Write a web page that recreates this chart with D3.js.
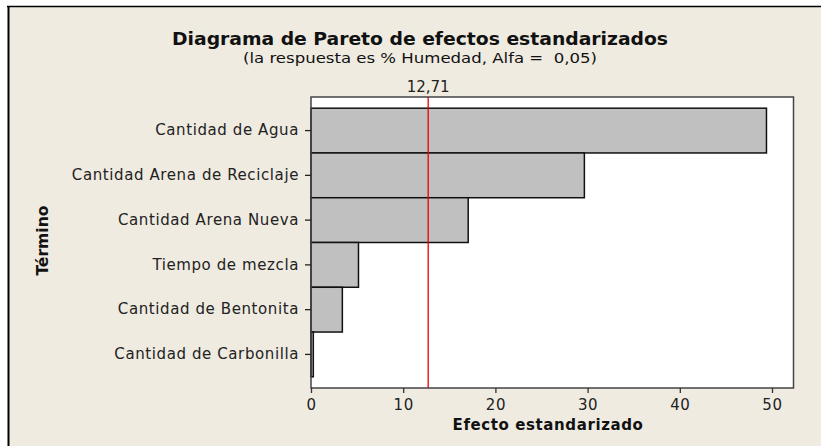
<!DOCTYPE html>
<html>
<head>
<meta charset="utf-8">
<script src="https://cdn.jsdelivr.net/npm/d3@7"></script>
<style>
  html, body { margin: 0; padding: 0; background: #ffffff; }
  svg { display: block; }
</style>
</head>
<body>
<svg id="chart" width="821" height="446"></svg>
<script>
// Terms of the factorial model, ordered by standardized effect
const terms = [
  "Cantidad de Agua",
  "Cantidad Arena de Reciclaje",
  "Cantidad Arena Nueva",
  "Tiempo de mezcla",
  "Cantidad de Bentonita",
  "Cantidad de Carbonilla"
];
const effects = [49.4, 29.65, 17.05, 5.15, 3.4, 0.25];
const xTicks = [0, 10, 20, 30, 40, 50];
const criticalValue = 12.71;
const criticalLabel = "12,71";

const svg = d3.select("#chart");
const W = 821, H = 446;
const plot = { left: 311, right: 793.5, top: 97, bottom: 388 };
const sans = "'DejaVu Sans', Verdana, sans-serif";
const cond = "'DejaVu Sans Condensed', 'DejaVu Sans', sans-serif";

// Panel background with its top and left frame lines
svg.append("rect").attr("x", 8).attr("y", 6).attr("width", W - 8).attr("height", H - 6)
  .attr("fill", "#efebe1");
svg.append("line").attr("x1", 7).attr("x2", W).attr("y1", 6.5).attr("y2", 6.5)
  .attr("stroke", "#000").attr("stroke-width", 1.5);
svg.append("line").attr("x1", 8.5).attr("x2", 8.5).attr("y1", 6).attr("y2", H)
  .attr("stroke", "#000").attr("stroke-width", 2);

// Titles
svg.append("text").attr("x", 420).attr("y", 45).attr("text-anchor", "middle")
  .attr("font-family", cond)
  .attr("font-weight", "bold").attr("font-size", 18).attr("fill", "#111")
  .attr("textLength", 496).attr("lengthAdjust", "spacingAndGlyphs")
  .text("Diagrama de Pareto de efectos estandarizados");
svg.append("text").attr("x", 420).attr("y", 63).attr("text-anchor", "middle")
  .attr("font-family", cond).style("white-space", "pre")
  .attr("font-size", 14).attr("fill", "#111")
  .attr("textLength", 354).attr("lengthAdjust", "spacingAndGlyphs")
  .text("(la respuesta es % Humedad, Alfa =  0,05)");

// Scales
const x = d3.scaleLinear().domain([0, (plot.right - plot.left) / 9.22]).range([plot.left, plot.right]);
const y = d3.scaleBand().domain(terms).range([plot.top, plot.bottom])
  .paddingInner(0).paddingOuter(0.25);

// Plot area
svg.append("rect").attr("x", plot.left).attr("y", plot.top)
  .attr("width", plot.right - plot.left).attr("height", plot.bottom - plot.top)
  .attr("fill", "#ffffff");

// Bars
svg.append("g").selectAll("rect").data(terms).join("rect")
  .attr("x", x(0))
  .attr("y", d => y(d))
  .attr("width", (d, i) => x(effects[i]) - x(0))
  .attr("height", y.bandwidth())
  .attr("fill", "#c0c0c0")
  .attr("stroke", "#111")
  .attr("stroke-width", 1.5);

// Critical value reference line
svg.append("line")
  .attr("x1", x(criticalValue)).attr("x2", x(criticalValue))
  .attr("y1", plot.top).attr("y2", plot.bottom)
  .attr("stroke", "#e80000").attr("stroke-width", 1.3);
svg.append("text").attr("x", x(criticalValue)).attr("y", 92)
  .attr("text-anchor", "middle")
  .attr("font-family", cond)
  .attr("font-size", 16).attr("fill", "#222")
  .attr("textLength", 43).attr("lengthAdjust", "spacingAndGlyphs")
  .text(criticalLabel);

// Plot frame
svg.append("rect").attr("x", plot.left).attr("y", plot.top)
  .attr("width", plot.right - plot.left).attr("height", plot.bottom - plot.top)
  .attr("fill", "none").attr("stroke", "#444").attr("stroke-width", 1.5);

// Axes
const fmt = d => String(d);
const xAxis = svg.append("g").attr("transform", `translate(0,${plot.bottom})`)
  .call(d3.axisBottom(x).tickValues(xTicks).tickFormat(fmt).tickSize(5).tickPadding(6));
xAxis.select(".domain").remove();
xAxis.selectAll(".tick line").attr("stroke", "#333").attr("stroke-width", 1.3);
xAxis.selectAll(".tick text")
  .attr("font-family", sans).attr("letter-spacing", 0.6)
  .attr("font-size", 15).attr("fill", "#222");

const yAxis = svg.append("g").attr("transform", `translate(${plot.left},0)`)
  .call(d3.axisLeft(y).tickSize(6).tickPadding(6));
yAxis.select(".domain").remove();
yAxis.selectAll(".tick line").attr("stroke", "#222").attr("stroke-width", 1.3);
yAxis.selectAll(".tick text")
  .attr("font-family", sans).attr("letter-spacing", 0.6)
  .attr("font-size", 15).attr("fill", "#222");

// Axis titles
svg.append("text").attr("x", 548).attr("y", 430).attr("text-anchor", "middle")
  .attr("font-family", sans).attr("letter-spacing", 0.6)
  .attr("font-weight", "bold").attr("font-size", 15).attr("fill", "#111")
  .text("Efecto estandarizado");
svg.append("text")
  .attr("transform", `translate(48,${(plot.top + plot.bottom) / 2 - 2}) rotate(-90)`)
  .attr("text-anchor", "middle")
  .attr("font-family", cond)
  .attr("font-weight", "bold").attr("font-size", 16).attr("fill", "#111")
  .attr("textLength", 70).attr("lengthAdjust", "spacingAndGlyphs")
  .text("Término");
</script>
</body>
</html>
